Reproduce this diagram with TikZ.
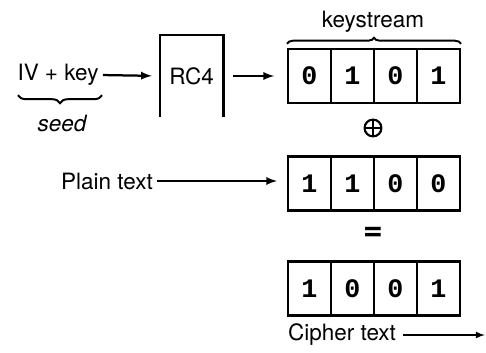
\documentclass[tikz,border=0pt]{standalone}
\usepackage{fontspec}
\setmainfont{TeX Gyre Heros}
\setmonofont{Liberation Mono}
\usetikzlibrary{positioning}
\usetikzlibrary{decorations.pathreplacing}

\tikzset{
    bit/.style={draw, line width=1.5pt, minimum width=1.075cm, minimum height=1.35cm,
        inner sep=0pt, font=\fontsize{19}{22}\selectfont\ttfamily\bfseries},
    lbl/.style={font=\fontsize{16}{19}\selectfont, inner sep=1pt},
    flow/.style={->, >=latex, line width=1.6pt},
    curly/.style={decorate, line width=1.4pt, decoration={brace, amplitude=#1}},
    xorsign/.style={circle, draw, line width=1.5pt, minimum size=0.42cm, inner sep=0pt},
}

\begin{document}
\begin{tikzpicture}
    \useasboundingbox (0,0) rectangle (12.15,8.8);
    % seed and RC4
    \node [lbl] (ivkey) at (1.45,6.925) {IV + key};
    \draw [curly=0.2cm, decoration={mirror}] (0.45,6.42) -- (2.55,6.42);
    \node [lbl, font=\fontsize{16}{19}\selectfont\itshape] (seed) at (1.55,5.725) {seed};
    \node [lbl, minimum width=1.575cm, minimum height=2.025cm] (rc4) at (4.79,6.9) {RC4};
    \draw [line width=1.6pt] (rc4.south west) -- (rc4.north west) -- (rc4.north east) -- (rc4.south east);
    \draw [flow, shorten <=2pt, shorten >=0.2cm] (ivkey.east) -- (rc4.west);
    % bit rows
    \foreach \b [count=\i] in {0,1,0,1}
        \node [bit] (k\i) at ({7.7375+1.075*(\i-1)},6.9) {\b};
    \foreach \b [count=\i] in {1,1,0,0}
        \node [bit] (p\i) at ({7.7375+1.075*(\i-1)},4.2125) {\b};
    \foreach \b [count=\i] in {1,0,0,1}
        \node [bit] (c\i) at ({7.7375+1.075*(\i-1)},1.5875) {\b};
    \draw [curly=0.15cm] ([yshift=3pt]k1.north west) -- ([yshift=3pt]k4.north east);
    \node [lbl] (kstream) at (9.325,8.25) {keystream};
    \draw [flow, shorten <=0.25cm, shorten >=0.32cm] (rc4.east) -- (rc4.east -| k1.west);
    % xor sign
    \node [xorsign] (plus) at (9.325,5.6) {};
    \draw [line width=1.5pt] (plus.north) -- (plus.south);
    \draw [line width=1.5pt] (plus.west) -- (plus.east);
    \node [lbl] (plain) at (2.675,4.275) {Plain text};
    \draw [flow, shorten <=2pt, shorten >=0.25cm] (plain.east) -- (plain.east -| p1.west);
    \node [lbl, font=\fontsize{24}{26}\selectfont\bfseries] (equal) at (9.325,2.95) {=};
    \node [lbl] (cipher) at (8.55,0.425) {Cipher text};
    \coordinate (out) at (12.12,0.425);
    \draw [flow, line width=1.2pt, shorten <=4pt] (cipher.east) -- (out);
\end{tikzpicture}
\end{document}
